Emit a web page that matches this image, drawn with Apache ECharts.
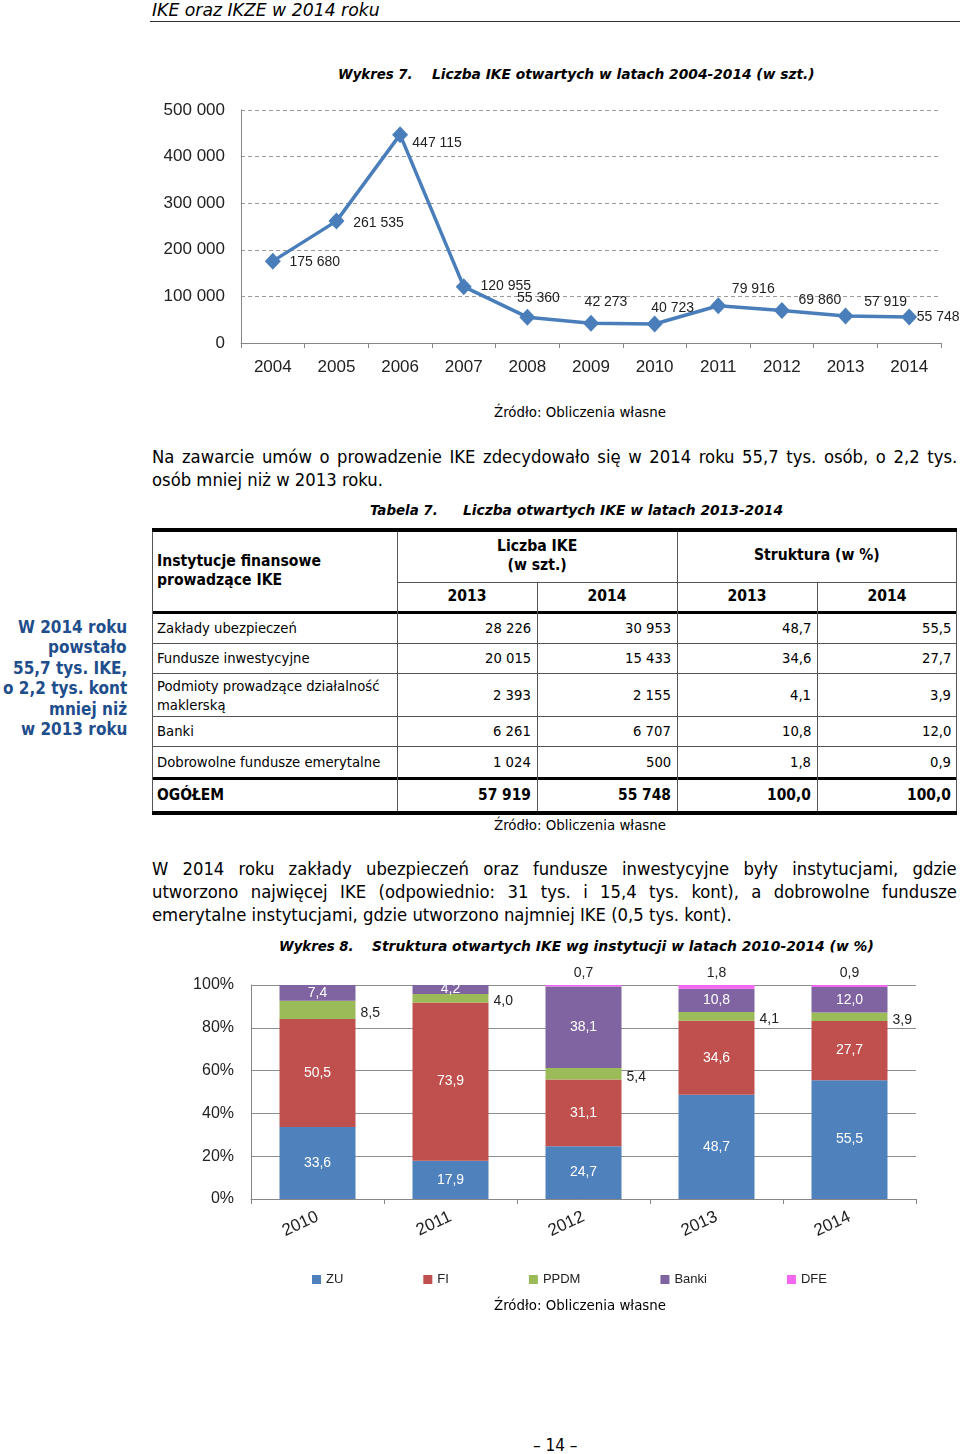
<!DOCTYPE html>
<html><head><meta charset="utf-8">
<script src="https://cdn.jsdelivr.net/npm/echarts/dist/echarts.min.js"></script>
<style>
html,body{margin:0;padding:0;background:#fff;}
body{width:960px;height:1454px;position:relative;overflow:hidden;font-family:"DejaVu Sans Condensed","DejaVu Sans",sans-serif;color:#000;}
.t{position:absolute;white-space:nowrap;}
.hl{position:absolute;background:#000;}
.vl{position:absolute;background:#555;width:1px;}
#c1{position:absolute;left:0;top:90px;width:960px;height:300px;}
#c2{position:absolute;left:0;top:960px;width:960px;height:340px;}
</style></head>
<body>
<div id="c1"></div>
<div id="c2"></div>
<script>
// ---------- data ----------
const years1 = ['2004','2005','2006','2007','2008','2009','2010','2011','2012','2013','2014'];
const ikeOpened = [175680, 261535, 447115, 120955, 55360, 42273, 40723, 79916, 69860, 57919, 55748];

const tableInstitutions = ['Zakłady ubezpieczeń','Fundusze inwestycyjne','Podmioty prowadzące działalność|maklerską','Banki','Dobrowolne fundusze emerytalne'];
const count2013 = [28226, 20015, 2393, 6261, 1024];
const count2014 = [30953, 15433, 2155, 6707, 500];
const share2013 = [48.7, 34.6, 4.1, 10.8, 1.8];
const share2014 = [55.5, 27.7, 3.9, 12.0, 0.9];
const totalRow = [57919, 55748, 100.0, 100.0];

const years2 = ['2010','2011','2012','2013','2014'];
const seriesNames2 = ['ZU','FI','PPDM','Banki','DFE'];
const shareZU = [33.6, 17.9, 24.7, 48.7, 55.5];
const shareFI = [50.5, 73.9, 31.1, 34.6, 27.7];
const sharePPDM = [8.5, 4.0, 5.4, 4.1, 3.9];
const shareBanki = [7.4, 4.2, 38.1, 10.8, 12.0];
const shareDFE = [null, null, 0.7, 1.8, 0.9];

// ---------- helpers ----------
const thousands = v => String(v).replace(/\B(?=(\d{3})+(?!\d))/g, ' ');
const dec1 = v => v.toFixed(1).replace('.', ',');

function txt(s, o) {
  const d = document.createElement('div');
  d.className = 't';
  d.textContent = s;
  const fs = o.size || 14;
  d.style.fontSize = fs + 'px';
  d.style.lineHeight = Math.round(fs * 1.2) + 'px';
  d.style.top = (o.cy - fs * 0.62) + 'px';
  if (o.font) d.style.fontFamily = o.font;
  if (o.bold) d.style.fontWeight = 'bold';
  if (o.italic) d.style.fontStyle = 'italic';
  d.style.color = o.color || '#000';
  document.body.appendChild(d);
  const w = d.offsetWidth;
  let left;
  if (o.x0 != null && o.x1 != null) {
    const target = o.x1 - o.x0;
    if (o.justify) {
      const n = (s.match(/ /g) || []).length;
      if (n) d.style.wordSpacing = ((target - w) / n) + 'px';
    } else {
      d.style.transformOrigin = 'left center';
      d.style.transform = 'scaleX(' + (target / w) + ')';
    }
    left = o.x0;
  } else if (o.align === 'right') left = o.x - w;
  else if (o.align === 'center') left = o.x - w / 2;
  else left = o.x;
  d.style.left = left + 'px';
  return d;
}
function box(cls, x, y, w, h, color) {
  const d = document.createElement('div');
  d.className = cls;
  d.style.left = x + 'px'; d.style.top = y + 'px';
  d.style.width = w + 'px'; d.style.height = h + 'px';
  if (color) d.style.background = color;
  document.body.appendChild(d);
}

// ---------- page text ----------
txt('IKE oraz IKZE w 2014 roku', {x0:152, x1:380, cy:10, size:18, italic:true});
box('hl', 150, 21, 810, 1, '#333');

txt('Wykres 7.', {x0:338, x1:413, cy:75, size:14, bold:true, italic:true});
txt('Liczba IKE otwartych w latach 2004-2014 (w szt.)', {x0:432, x1:815, cy:75, size:14, bold:true, italic:true});
txt('Źródło: Obliczenia własne', {x0:494, x1:666, cy:413, size:14});

const bodyFs = 18.3;
txt('Na zawarcie umów o prowadzenie IKE zdecydowało się w 2014 roku 55,7 tys. osób, o 2,2 tys.', {x0:152, x1:957, cy:457, size:bodyFs, justify:true});
txt('osób mniej niż w 2013 roku.', {x:152, cy:480, size:bodyFs});

txt('Tabela 7.', {x0:370, x1:438, cy:511, size:14, bold:true, italic:true});
txt('Liczba otwartych IKE w latach 2013-2014', {x0:463, x1:783, cy:511, size:14, bold:true, italic:true});

const blue = '#1F4E8C';
[['W 2014 roku',628],['powstało',648],['55,7 tys. IKE,',669],['o 2,2 tys. kont',689],['mniej niż',710],['w 2013 roku',730]]
  .forEach(([s, y]) => txt(s, {x:127, align:'right', cy:y, size:17, bold:true, color:blue}));

// ---------- table ----------
box('hl', 152, 528, 805, 4, '#000');
box('hl', 152, 611, 805, 3, '#000');
box('hl', 152, 777, 805, 3, '#000');
box('hl', 152, 811, 805, 4, '#000');
box('hl', 397, 582, 560, 1, '#555');
[643, 673, 716, 746].forEach(y => box('hl', 152, y, 805, 1, '#555'));
[152, 397, 677, 956].forEach(x => box('vl', x, 532, 1, 279));
[537, 817].forEach(x => box('vl', x, 582, 1, 229));

const hFs = 15.6, cFs = 14.7, tFs = 15.4;
txt('Instytucje finansowe', {x:157, cy:562, size:hFs, bold:true});
txt('prowadzące IKE', {x:157, cy:581, size:hFs, bold:true});
txt('Liczba IKE', {x:537, align:'center', cy:547, size:hFs, bold:true});
txt('(w szt.)', {x:537, align:'center', cy:566, size:hFs, bold:true});
txt('Struktura (w %)', {x:817, align:'center', cy:556, size:hFs, bold:true});
['2013','2014','2013','2014'].forEach((s, i) => txt(s, {x:467 + i * 140, align:'center', cy:597, size:hFs, bold:true}));

const rowCy = [628, 658, 695, 731, 762];
const colRight = [531, 671, 811, 951];
tableInstitutions.forEach((name, i) => {
  const parts = name.split('|');
  if (parts.length === 2) {
    txt(parts[0], {x:157, cy:rowCy[i] - 9, size:cFs});
    txt(parts[1], {x:157, cy:rowCy[i] + 10, size:cFs});
  } else txt(name, {x:157, cy:rowCy[i], size:cFs});
  const vals = [thousands(count2013[i]), thousands(count2014[i]), dec1(share2013[i]), dec1(share2014[i])];
  vals.forEach((v, j) => txt(v, {x:colRight[j], align:'right', cy:rowCy[i], size:cFs}));
});
txt('OGÓŁEM', {x:157, cy:796, size:tFs, bold:true});
[thousands(totalRow[0]), thousands(totalRow[1]), dec1(totalRow[2]), dec1(totalRow[3])]
  .forEach((v, j) => txt(v, {x:colRight[j], align:'right', cy:796, size:tFs, bold:true}));

txt('Źródło: Obliczenia własne', {x0:494, x1:666, cy:826, size:14});

txt('W 2014 roku zakłady ubezpieczeń oraz fundusze inwestycyjne były instytucjami, gdzie', {x0:152, x1:957, cy:869, size:bodyFs, justify:true});
txt('utworzono najwięcej IKE (odpowiednio: 31 tys. i 15,4 tys. kont), a dobrowolne fundusze', {x0:152, x1:957, cy:892, size:bodyFs, justify:true});
txt('emerytalne instytucjami, gdzie utworzono najmniej IKE (0,5 tys. kont).', {x:152, cy:915, size:bodyFs});

txt('Wykres 8.', {x0:279, x1:354, cy:947, size:14, bold:true, italic:true});
txt('Struktura otwartych IKE wg instytucji w latach 2010-2014 (w %)', {x0:372, x1:874, cy:947, size:14, bold:true, italic:true});

txt('Źródło: Obliczenia własne', {x0:494, x1:666, cy:1306, size:14});
txt('– 14 –', {x:555, align:'center', cy:1446, size:17});

// ---------- chart 1 ----------
const chartFont = '"Liberation Sans", Arial, sans-serif';
const labelOffsets1 = [[42,1],[42,2],[37,8],[42,0],[11,-19],[15,-21],[18,-16],[35,-17],[38,-10],[40,-14],[29,0]];
const c1 = echarts.init(document.getElementById('c1'), null, {renderer:'canvas'});
c1.setOption({
  animation:false,
  textStyle:{fontFamily:chartFont},
  grid:{left:241, right:19, top:20, bottom:47},
  xAxis:{type:'category', data:years1, boundaryGap:true,
    axisLine:{lineStyle:{color:'#868686', width:1}},
    axisTick:{show:true, length:5, lineStyle:{color:'#868686'}},
    axisLabel:{color:'#222', fontSize:17, margin:16, fontFamily:chartFont}},
  yAxis:{type:'value', min:0, max:500000, interval:100000,
    axisLine:{show:true, lineStyle:{color:'#868686'}},
    axisTick:{show:false},
    splitLine:{lineStyle:{color:'#9a9a9a', type:[4,3], width:1}},
    axisLabel:{color:'#222', fontSize:17, margin:16, fontFamily:chartFont, formatter:v => thousands(v)}},
  series:[{type:'line', data:ikeOpened.map((v, i) => ({value:v, label:{offset:labelOffsets1[i]}})),
    symbol:'diamond', symbolSize:[16,17],
    lineStyle:{color:'#4A7EBB', width:3.5},
    itemStyle:{color:'#4A7EBB'},
    label:{show:true, position:'inside', color:'#222', fontSize:14, fontFamily:chartFont, formatter:p => thousands(p.value)}}]
});

// ---------- chart 2 ----------
const colors2 = ['#4F81BD','#C0504D','#9BBB59','#8064A2','#F266F0'];
const data2 = [shareZU, shareFI, sharePPDM, shareBanki, shareDFE];
const labelCfg2 = [
  {show:true, position:'inside', color:'#fff'},
  {show:true, position:'inside', color:'#fff'},
  {show:true, position:'right', distance:5, offset:[0,3], color:'#222'},
  {show:true, position:'inside', color:'#fff'},
  {show:true, position:'top', distance:5, color:'#222'}
];
const c2 = echarts.init(document.getElementById('c2'), null, {renderer:'canvas'});
c2.setOption({
  animation:false,
  textStyle:{fontFamily:chartFont},
  color:colors2,
  grid:{left:251, right:44, top:25, bottom:101},
  legend:{data:seriesNames2, left:307, top:308, itemWidth:9, itemHeight:9, itemGap:80, icon:'rect',
    textStyle:{fontSize:13, color:'#222', fontFamily:chartFont}},
  xAxis:{type:'category', data:years2,
    axisLine:{lineStyle:{color:'#868686'}},
    axisTick:{show:true, length:5, lineStyle:{color:'#868686'}},
    axisLabel:{color:'#222', fontSize:17, rotate:25, margin:17, fontFamily:chartFont}},
  yAxis:{type:'value', min:0, max:100, interval:20,
    axisLine:{show:true, lineStyle:{color:'#868686'}},
    axisTick:{show:false},
    splitLine:{lineStyle:{color:'#8c8c8c', width:1}},
    axisLabel:{color:'#222', fontSize:16, margin:17, fontFamily:chartFont, formatter:'{value}%'}},
  series:seriesNames2.map((n, i) => ({
    name:n, type:'bar', stack:'all', barWidth:76, data:data2[i],
    label:Object.assign({fontSize:14, fontFamily:chartFont, formatter:p => (p.value == null ? '' : dec1(p.value))}, labelCfg2[i])
  }))
});
</script>
</body></html>
